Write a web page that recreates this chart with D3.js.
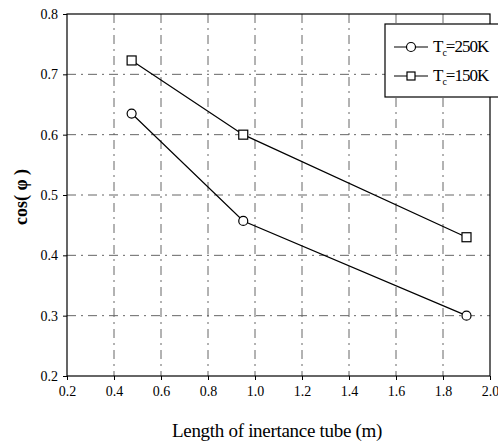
<!DOCTYPE html>
<html>
<head>
<meta charset="utf-8">
<script src="https://cdn.jsdelivr.net/npm/d3@7.9.0/dist/d3.min.js"></script>
<style>
  body { margin: 0; background: #fff; }
  svg text { font-family: "Liberation Serif", "DejaVu Serif", "Times New Roman", serif !important; }
</style>
</head>
<body>
<svg id="chart" width="498" height="443"></svg>
<script>
// data
const lengths = [0.475, 0.95, 1.9];
const cos250 = [0.635, 0.457, 0.30];
const cos150 = [0.723, 0.60, 0.43];
const xTicks = [0.2, 0.4, 0.6, 0.8, 1.0, 1.2, 1.4, 1.6, 1.8, 2.0];
const yTicks = [0.2, 0.3, 0.4, 0.5, 0.6, 0.7, 0.8];

const serif = '"Liberation Serif", "DejaVu Serif", serif';
const margin = { top: 14, right: 8, bottom: 67, left: 67 };
const width = 498, height = 443;

const svg = d3.select('#chart');

const x = d3.scaleLinear().domain([0.2, 2.0]).range([margin.left, width - margin.right]);
const y = d3.scaleLinear().domain([0.2, 0.8]).range([height - margin.bottom, margin.top]);

// grid lines (dash-dot, like the scanned original)
const grid = svg.append('g').attr('stroke', '#666').attr('stroke-width', 1)
  .attr('stroke-dasharray', '9,5,2,5');
grid.selectAll('line.v')
  .data(xTicks.slice(1, -1))
  .join('line')
  .attr('x1', d => x(d)).attr('x2', d => x(d))
  .attr('y1', y(0.8)).attr('y2', y(0.2));
grid.selectAll('line.h')
  .data(yTicks.slice(1, -1))
  .join('line')
  .attr('x1', x(0.2)).attr('x2', x(2.0))
  .attr('y1', d => y(d)).attr('y2', d => y(d));

// frame
svg.append('rect')
  .attr('x', x(0.2)).attr('y', y(0.8))
  .attr('width', x(2.0) - x(0.2)).attr('height', y(0.2) - y(0.8))
  .attr('fill', 'none').attr('stroke', '#000').attr('stroke-width', 1.2);

// axes
const xAxis = svg.append('g')
  .attr('transform', `translate(0,${y(0.2)})`)
  .call(d3.axisBottom(x).tickValues(xTicks).tickFormat(d3.format('.1f')).tickSize(4).tickPadding(6));
const yAxis = svg.append('g')
  .attr('transform', `translate(${x(0.2)},0)`)
  .call(d3.axisLeft(y).tickValues(yTicks).tickFormat(d3.format('.1f')).tickSize(4).tickPadding(5));
[xAxis, yAxis].forEach(a => {
  a.attr('font-family', serif);
  a.select('.domain').remove();
  a.selectAll('text').attr('font-size', 14).attr('fill', '#000');
});

// series
const line = d3.line().x(d => x(d[0])).y(d => y(d[1]));
const s250 = lengths.map((l, i) => [l, cos250[i]]);
const s150 = lengths.map((l, i) => [l, cos150[i]]);

svg.append('path').datum(s250).attr('d', line)
  .attr('fill', 'none').attr('stroke', '#000').attr('stroke-width', 1.2);
svg.append('path').datum(s150).attr('d', line)
  .attr('fill', 'none').attr('stroke', '#000').attr('stroke-width', 1.2);

svg.selectAll('circle.pt')
  .data(s250)
  .join('circle')
  .attr('cx', d => x(d[0])).attr('cy', d => y(d[1])).attr('r', 4.5)
  .attr('fill', '#fff').attr('stroke', '#000').attr('stroke-width', 1.2);
svg.selectAll('rect.pt')
  .data(s150)
  .join('rect')
  .attr('x', d => x(d[0]) - 4.5).attr('y', d => y(d[1]) - 4.5)
  .attr('width', 9).attr('height', 9)
  .attr('fill', '#fff').attr('stroke', '#000').attr('stroke-width', 1.2);

// legend
const lg = svg.append('g').attr('font-family', serif);
lg.append('rect')
  .attr('x', 385).attr('y', 24).attr('width', 120).attr('height', 73)
  .attr('fill', '#fff').attr('stroke', '#000').attr('stroke-width', 1.2);
const items = [
  { label: '250K', mark: 'circle' },
  { label: '150K', mark: 'square' }
];
items.forEach((it, i) => {
  const cy = 47 + i * 29;
  lg.append('line').attr('x1', 394).attr('x2', 428).attr('y1', cy).attr('y2', cy)
    .attr('stroke', '#000').attr('stroke-width', 1.2);
  if (it.mark === 'circle') {
    lg.append('circle').attr('cx', 411).attr('cy', cy).attr('r', 4.5)
      .attr('fill', '#fff').attr('stroke', '#000').attr('stroke-width', 1.2);
  } else {
    lg.append('rect').attr('x', 407).attr('y', cy - 4).attr('width', 8).attr('height', 8)
      .attr('fill', '#fff').attr('stroke', '#000').attr('stroke-width', 1.2);
  }
  const t = lg.append('text').attr('x', 433).attr('y', cy + 5).attr('font-size', 17)
    .attr('letter-spacing', -1);
  t.append('tspan').text('T');
  t.append('tspan').attr('font-size', 10).attr('dy', 4).text('c');
  t.append('tspan').attr('dy', -4).text('=' + it.label);
});

// axis titles
svg.append('text')
  .attr('x', 277).attr('y', 437)
  .attr('font-family', serif)
  .attr('text-anchor', 'middle').attr('font-size', 19)
  .attr('letter-spacing', -0.3)
  .text('Length of inertance tube (m)');

svg.append('text')
  .attr('transform', 'translate(27,197) rotate(-90)')
  .attr('font-family', serif)
  .attr('text-anchor', 'middle').attr('font-size', 18).attr('font-weight', 'bold')
  .text('cos( φ )');
</script>
</body>
</html>
